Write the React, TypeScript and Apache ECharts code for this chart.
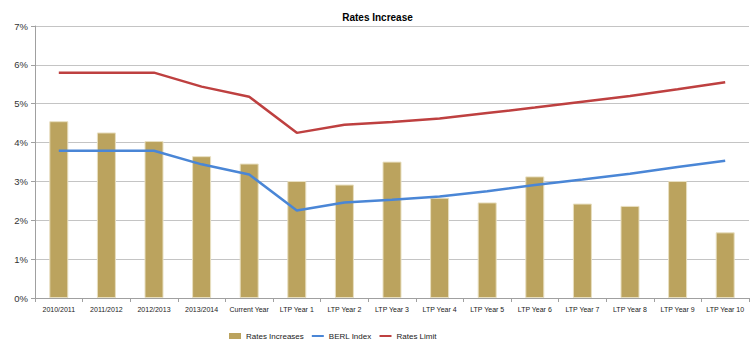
import React, { useEffect, useRef } from "react";
import * as echarts from "echarts";

const categories = ["2010/2011", "2011/2012", "2012/2013", "2013/2014", "Current Year", "LTP Year 1", "LTP Year 2", "LTP Year 3", "LTP Year 4", "LTP Year 5", "LTP Year 6", "LTP Year 7", "LTP Year 8", "LTP Year 9", "LTP Year 10"];
const ratesIncreases = [4.55, 4.26, 4.04, 3.65, 3.46, 3.01, 2.92, 3.51, 2.58, 2.46, 3.13, 2.43, 2.37, 3.01, 1.69];
const berlIndex = [3.79, 3.79, 3.79, 3.44, 3.18, 2.25, 2.46, 2.53, 2.61, 2.75, 2.91, 3.05, 3.2, 3.37, 3.53];
const ratesLimit = [5.8, 5.8, 5.8, 5.44, 5.18, 4.25, 4.46, 4.53, 4.62, 4.76, 4.9, 5.05, 5.2, 5.37, 5.55];

const FONT = "'Liberation Sans', Arial, sans-serif";
const BAR = "#BBA35E";
const BLUE = "#4A86D6";
const RED = "#BE4040";

export default function App() {
  const ref = useRef<HTMLDivElement>(null);
  useEffect(() => {
    if (!ref.current) return;
    const chart = echarts.init(ref.current, null, { renderer: "svg" });
    chart.setOption({
      animation: false,
      backgroundColor: "#ffffff",
      title: {
        text: "Rates Increase",
        left: "center",
        top: 7,
        textStyle: { fontFamily: FONT, fontSize: 10, fontWeight: "bold", color: "#000" },
      },
      legend: {
        bottom: 6,
        left: 224,
        itemGap: 7,
        textStyle: { fontFamily: FONT, fontSize: 8, color: "#222" },
        data: [
          { name: "Rates Increases", icon: "rect", itemStyle: { color: BAR, borderWidth: 0 } },
          { name: "BERL Index", itemStyle: { opacity: 0 }, lineStyle: { color: BLUE, width: 2 } },
          { name: "Rates Limit", itemStyle: { opacity: 0 }, lineStyle: { color: RED, width: 2 } },
        ],
        itemWidth: 12,
        itemHeight: 6,
      },
      grid: { left: 35, right: 6, top: 26, bottom: 53 },
      xAxis: {
        type: "category",
        data: categories,
        boundaryGap: true,
        axisLine: { lineStyle: { color: "#a0a0a0" } },
        axisTick: { show: true, alignWithLabel: false, length: 4, lineStyle: { color: "#a0a0a0" } },
        axisLabel: { fontFamily: FONT, fontSize: 7, color: "#222", interval: 0, margin: 8 },
      },
      yAxis: {
        type: "value",
        min: 0,
        max: 7,
        interval: 1,
        axisLine: { show: true, lineStyle: { color: "#a0a0a0" } },
        axisTick: { show: true, length: 4, lineStyle: { color: "#a0a0a0" } },
        axisLabel: { fontFamily: FONT, fontSize: 9.5, color: "#333", formatter: "{value}%", margin: 7 },
        splitLine: { lineStyle: { color: "#c4c4c4", width: 1 } },
      },
      series: [
        {
          name: "Rates Increases",
          type: "bar",
          data: ratesIncreases,
          barWidth: 19,
          itemStyle: { color: BAR, borderColor: "#E8DFC0", borderWidth: 1 },
        },
        {
          name: "BERL Index",
          type: "line",
          data: berlIndex,
          symbol: "none",
          lineStyle: { color: BLUE, width: 2.5 },
          itemStyle: { color: BLUE },
        },
        {
          name: "Rates Limit",
          type: "line",
          data: ratesLimit,
          symbol: "none",
          lineStyle: { color: RED, width: 2.5 },
          itemStyle: { color: RED },
        },
      ],
    });
    return () => chart.dispose();
  }, []);
  return <div ref={ref} style={{ width: 755, height: 351, position: "absolute", left: 0, top: 0 }} />;
}
